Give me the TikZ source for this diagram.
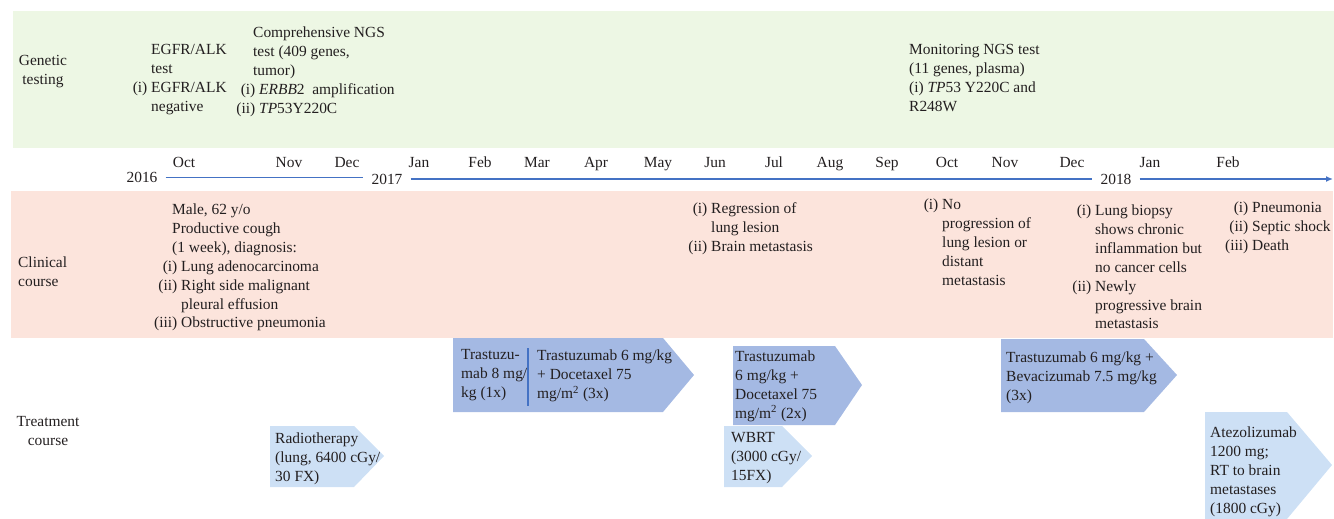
\documentclass[tikz,border=0pt]{standalone}
\usepackage{fontspec}
\setmainfont{Liberation Serif}
\usetikzlibrary{arrows.meta}

\definecolor{genbg}{RGB}{237,247,228}
\definecolor{clinbg}{RGB}{252,228,220}
\definecolor{trtdark}{RGB}{164,185,227}
\definecolor{trtlight}{RGB}{205,224,245}
\definecolor{axisblue}{RGB}{68,114,196}
\definecolor{ink}{RGB}{35,31,32}

\newcommand{\lbl}[1]{\llap{#1\ }}

\begin{document}
\begin{tikzpicture}[x=1bp, y=-1bp,
    plain/.style={inner sep=0pt, text=ink, font=\fontsize{15.5}{19}\selectfont},
    txt/.style={plain, anchor=north west, align=left, yshift=11.5bp,
      execute at begin node=\strut},
    rowlabel/.style={txt, anchor=north, align=center},
    month/.style={plain, anchor=base},
    year/.style={plain, anchor=center, inner xsep=8bp},
    darkbox/.style={fill=trtdark},
    lightbox/.style={fill=trtlight}]
    \useasboundingbox (0,0) rectangle (1334,519);

    % bands
    \fill[genbg] (13,11) rectangle (1334,148);
    \fill[clinbg] (11,191) rectangle (1333,338);

    % row titles
    \node[rowlabel] (gentitle) at (43,67) {Genetic\\testing};
    \node[txt] (clintitle) at (18,268) {Clinical\\course};
    \node[rowlabel] (trttitle) at (48,428) {Treatment\\course};

    % genetic testing
    \node[txt] (egfr) at (151,56) {EGFR/ALK\\test\\\lbl{(i)}EGFR/ALK\\negative};
    \node[txt] (ngs) at (259,38) {\hspace*{-6bp}Comprehensive NGS\\\hspace*{-6bp}test (409 genes,\\\hspace*{-6bp}tumor)\\
      \lbl{(i)}\textit{ERBB}2~ amplification\\\lbl{(ii)}\textit{TP}53Y220C};
    \node[txt] (monit) at (909,56) {Monitoring NGS test\\(11 genes, plasma)\\(i) \textit{TP}53 Y220C and\\R248W};

    % time axis
    \node[year] (y16) at (142,177) {2016};
    \node[year] (y17) at (387,179) {2017};
    \node[year] (y18) at (1116,179) {2018};
    \foreach \x/\m [count=\i] in {184/Oct, 289/Nov, 347/Dec, 419/Jan, 480/Feb, 537/Mar,
        596/Apr, 658/May, 715/Jun, 774/Jul, 830/Aug, 887/Sep, 947/Oct, 1005/Nov,
        1072/Dec, 1150/Jan, 1228/Feb}
      \node[month] (mon\i) at (\x,168) {\m};
    \coordinate (tlend) at (1333,179);
    \draw[axisblue, line width=0.8bp] (y16.east) -- (y16.east -| y17.west);
    \draw[axisblue, line width=2.2bp] (y17.east) -- (y18.west);
    \draw[axisblue, line width=2.2bp, -{Latex[length=7bp,width=6bp]}] (y18.east) -- (tlend);

    % clinical course
    \node[txt] (clin1) at (181,215) {\hspace*{-9bp}Male, 62 y/o\\\hspace*{-9bp}Productive cough\\
      \hspace*{-9bp}(1 week), diagnosis:\\\lbl{(i)}Lung adenocarcinoma\\
      \lbl{(ii)}Right side malignant\\pleural effusion\\\lbl{(iii)}Obstructive pneumonia};
    \node[txt] (clin2) at (711,214) {\lbl{(i)}Regression of\\lung lesion\\\lbl{(ii)}Brain metastasis};
    \node[txt] (clin3) at (942,210) {\lbl{(i)}No\\progression of\\lung lesion or\\distant\\metastasis};
    \node[txt] (clin4) at (1095,216) {\lbl{(i)}Lung biopsy\\shows chronic\\inflammation but\\
      no cancer cells\\\lbl{(ii)}Newly\\progressive brain\\metastasis};
    \node[txt] (clin5) at (1252,213) {\lbl{(i)}Pneumonia\\\lbl{(ii)}Septic shock\\\lbl{(iii)}Death};

    % treatment course
    \fill[darkbox] (453,338) -- (663,338) -- (694,375) -- (663,412) -- (453,412) -- cycle;
    \draw[axisblue, line width=1.2bp] (528,348) -- (528,406);
    \node[txt] (trt1a) at (461,361) {Trastuzu-\\mab 8 mg/\\kg (1x)};
    \node[txt] (trt1b) at (537,361) {Trastuzumab 6 mg/kg\\+ Docetaxel 75\\mg/m\textsuperscript{2} (3x)};

    \fill[darkbox] (733,346) -- (835,346) -- (862,385) -- (835,425) -- (733,425) -- cycle;
    \node[txt] (trt2) at (735,362) {Trastuzumab\\6 mg/kg +\\Docetaxel 75\\mg/m\textsuperscript{2} (2x)};

    \fill[lightbox] (724,426) -- (782,426) -- (812,456) -- (782,487) -- (724,487) -- cycle;
    \node[txt] (wbrt) at (731,444) {WBRT\\(3000 cGy/\\15FX)};

    \fill[lightbox] (270,426) -- (354,426) -- (384,456) -- (354,487) -- (270,487) -- cycle;
    \node[txt] (radio) at (275,444) {Radiotherapy\\(lung, 6400 cGy/\\30 FX)};

    \fill[darkbox] (1001,339) -- (1144,339) -- (1177,375) -- (1144,412) -- (1001,412) -- cycle;
    \node[txt] (trt3) at (1006,363) {Trastuzumab 6 mg/kg +\\Bevacizumab 7.5 mg/kg\\(3x)};

    \fill[lightbox] (1205,412) -- (1287,412) -- (1332,465) -- (1287,519) -- (1205,519) -- cycle;
    \node[txt] (atezo) at (1210,438) {Atezolizumab\\1200 mg;\\RT to brain\\metastases\\(1800 cGy)};
\end{tikzpicture}
\end{document}
